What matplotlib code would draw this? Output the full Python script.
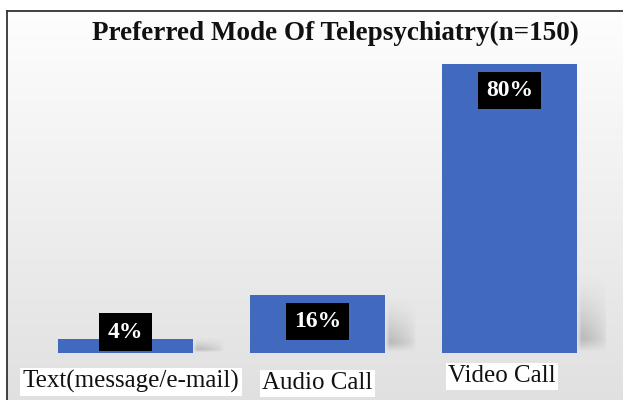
import numpy as np
import matplotlib.pyplot as plt
from matplotlib.colors import to_rgb

categories = ['Text(message/e-mail)', 'Audio Call', 'Video Call']
percent = [4, 16, 80]
title = 'Preferred Mode Of Telepsychiatry(n=150)'

bar_color = '#416ABF'
serif = ['Liberation Serif', 'DejaVu Serif']

fig = plt.figure(figsize=(6.23, 4.0), dpi=100)

# panel background: soft vertical gradient with a dark frame on top/left
bg = fig.add_axes([7 / 623, 0, 1 - 7 / 623, 389 / 400])
grad = np.linspace(0.995, 0.88, 256).reshape(-1, 1)
bg.imshow(np.dstack([grad, grad, grad]), aspect='auto', extent=(0, 1, 0, 1),
          interpolation='bicubic')
bg.set_xlim(0, 1)
bg.set_ylim(0, 1)
bg.set_xticks([])
bg.set_yticks([])
for side in ['right', 'bottom']:
    bg.spines[side].set_visible(False)
for side in ['top', 'left']:
    bg.spines[side].set_color('#333333')
    bg.spines[side].set_linewidth(1.3)

ax = fig.add_axes([29.5 / 623, 47 / 400, 576 / 623, 307 / 400])
ax.patch.set_alpha(0)
x = np.arange(len(categories))
width = 0.70

# soft drop shadow to the right of each bar, fading upward and outward
r, g, b = to_rgb('#5a5a5a')
for xi, v in zip(x, percent):
    sh_w, sh_h = 0.16, min(v, 22)
    nx, ny = 80, 80
    fx = np.linspace(0, 1, nx)
    fy = np.linspace(0, 1, ny).reshape(-1, 1)
    bump_x = np.clip(fx * 7, 0, 1) * (1 - fx) ** 0.6
    fade_y = (1 - fy) ** 1.5 * np.clip(fy * 6, 0, 1)
    rgba = np.zeros((ny, nx, 4))
    rgba[..., 0], rgba[..., 1], rgba[..., 2] = r, g, b
    rgba[..., 3] = bump_x * fade_y * 0.45
    ax.imshow(rgba, extent=(xi + width / 2, xi + width / 2 + sh_w, 0.3, 0.3 + sh_h),
              origin='lower', aspect='auto', interpolation='bicubic', zorder=1)

bars = ax.bar(x, percent, width=width, color=bar_color, zorder=2)

for bar, v in zip(bars, percent):
    y = max(v - 7.3, 5.8)
    ax.text(bar.get_x() + bar.get_width() / 2, y, f'{v}%', ha='center', va='center',
            color='white', fontsize=17, fontweight='bold', family=serif, zorder=3,
            bbox=dict(boxstyle='square,pad=0.35', facecolor='black', edgecolor='none'))

label_dx = [0.03, 0.0, -0.04]
label_dy = [-8.0, -8.4, -6.5]
for xi, name, dx, dy in zip(x, categories, label_dx, label_dy):
    ax.text(xi + dx, dy, name, ha='center', va='center', fontsize=18, family=serif,
            color='#111111', zorder=3,
            bbox=dict(boxstyle='square,pad=0.1', facecolor='white', edgecolor='none'))

ax.set_xlim(-0.5, 2.5)
ax.set_ylim(0, 85)
ax.axis('off')

fig.text(335 / 623, 1 - 33 / 400, title, ha='center', va='center', fontsize=19.5,
         fontweight='bold', family=serif, color='#111111')

fig.savefig('out.png', dpi=100)
